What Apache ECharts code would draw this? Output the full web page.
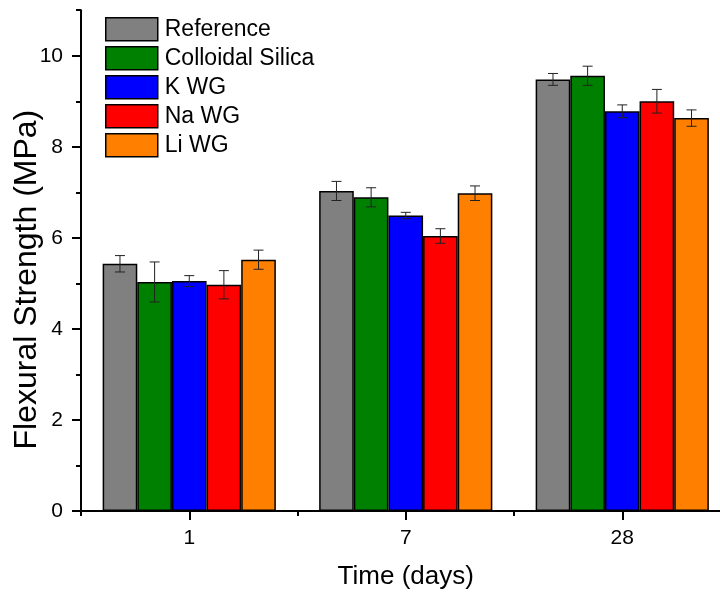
<!DOCTYPE html>
<html>
<head>
<meta charset="utf-8">
<script src="https://cdn.jsdelivr.net/npm/echarts@6/dist/echarts.min.js"></script>
<style>
html,body{margin:0;padding:0;background:#fff;}
#chart{width:720px;height:593px;}
</style>
</head>
<body>
<div id="chart"></div>
<script>
const categories = ['1', '7', '28'];
const seriesNames = ['Reference', 'Colloidal Silica', 'K WG', 'Na WG', 'Li WG'];
const referenceValues = [5.43, 7.03, 9.48];
const referenceErrors = [0.18, 0.21, 0.13];
const colloidalValues = [5.03, 6.89, 9.56];
const colloidalErrors = [0.44, 0.21, 0.21];
const kwgValues = [5.05, 6.49, 8.78];
const kwgErrors = [0.12, 0.07, 0.14];
const nawgValues = [4.97, 6.04, 9.00];
const nawgErrors = [0.31, 0.16, 0.26];
const liwgValues = [5.52, 6.98, 8.63];
const liwgErrors = [0.21, 0.16, 0.18];
const yMajorTicks = [0, 2, 4, 6, 8, 10];
const yMinorTicks = [1, 3, 5, 7, 9, 11];

const colors = ['#808080', '#008000', '#0000ff', '#ff0000', '#ff8000'];
const allValues = [referenceValues, colloidalValues, kwgValues, nawgValues, liwgValues];
const allErrors = [referenceErrors, colloidalErrors, kwgErrors, nawgErrors, liwgErrors];
const FONT = '"Liberation Sans", Arial, Helvetica, sans-serif';
const nSeries = seriesNames.length;

const series = [];
seriesNames.forEach((name, i) => {
  series.push({
    name: name,
    type: 'bar',
    xAxisIndex: 0,
    yAxisIndex: 0,
    data: allValues[i],
    barGap: '0%',
    barCategoryGap: '20%',
    itemStyle: { color: colors[i], borderColor: '#000', borderWidth: 1.5 },
    emphasis: { disabled: true }
  });
});
seriesNames.forEach((name, i) => {
  series.push({
    type: 'custom',
    xAxisIndex: 0,
    yAxisIndex: 0,
    z: 5,
    silent: true,
    data: allValues[i].map((v, k) => [k, v, allErrors[i][k]]),
    encode: { x: 0, y: 1 },
    renderItem: function (params, api) {
      const x = api.value(0), y = api.value(1), e = api.value(2);
      const c = api.coord([x, y]);
      const catW = api.size([1, 0])[0];
      const bw = catW * 0.8 / nSeries;
      const cx = c[0] + (i - (nSeries - 1) / 2) * bw;
      const top = api.coord([x, y + e])[1];
      const bot = api.coord([x, y - e])[1];
      const cap = 5;
      const st = { stroke: '#222', lineWidth: 1 };
      return {
        type: 'group',
        children: [
          { type: 'line', shape: { x1: cx, y1: top, x2: cx, y2: bot }, style: st },
          { type: 'line', shape: { x1: cx - cap, y1: top, x2: cx + cap, y2: top }, style: st },
          { type: 'line', shape: { x1: cx - cap, y1: bot, x2: cx + cap, y2: bot }, style: st }
        ]
      };
    }
  });
});

const chart = echarts.init(document.getElementById('chart'), null, { renderer: 'canvas' });
chart.setOption({
  animation: false,
  backgroundColor: '#fff',
  grid: { left: 81, right: -10.5, top: 10.2, bottom: 82, containLabel: false, outerBoundsMode: 'none' },
  legend: {
    orient: 'vertical',
    left: 105,
    top: 17,
    padding: 0,
    itemWidth: 52,
    itemHeight: 23,
    itemGap: 4.5,
    icon: 'rect',
    data: seriesNames,
    itemStyle: { borderColor: '#000', borderWidth: 1.5 },
    textStyle: { fontFamily: FONT, fontSize: 23, color: '#000', padding: [0, 0, 0, 2] },
    selectedMode: false
  },
  xAxis: [
    {
      type: 'category',
      data: categories,
      position: 'bottom',
      name: 'Time (days)',
      nameLocation: 'middle',
      nameGap: 53,
      nameMoveOverlap: false,
      nameTextStyle: { fontFamily: FONT, fontSize: 26, color: '#000' },
      axisLine: { show: true, lineStyle: { color: '#000', width: 2 } },
      axisTick: { show: true, alignWithLabel: true, length: 9, lineStyle: { color: '#000', width: 2 } },
      axisLabel: { fontFamily: FONT, fontSize: 21, color: '#000', margin: 17 },
      splitLine: { show: false }
    },
    {
      type: 'category',
      data: categories,
      position: 'bottom',
      axisLine: { show: false },
      axisTick: { show: true, alignWithLabel: false, interval: 0, length: 5, lineStyle: { color: '#000', width: 2 } },
      axisLabel: { show: false },
      splitLine: { show: false }
    }
  ],
  yAxis: [
    {
      type: 'value',
      min: 0,
      max: 11,
      position: 'left',
      name: 'Flexural Strength (MPa)',
      nameLocation: 'middle',
      nameRotate: 90,
      nameGap: 38,
      nameMoveOverlap: false,
      nameTextStyle: { fontFamily: FONT, fontSize: 32, color: '#000', padding: [0, 38, 0, 0] },
      axisLine: { show: true, lineStyle: { color: '#000', width: 2 } },
      axisTick: { show: true, length: 9, customValues: yMajorTicks, lineStyle: { color: '#000', width: 2 } },
      axisLabel: { fontFamily: FONT, fontSize: 21, color: '#000', margin: 18, customValues: yMajorTicks },
      splitLine: { show: false }
    },
    {
      type: 'value',
      min: 0,
      max: 11,
      position: 'left',
      axisLine: { show: false },
      axisTick: { show: true, length: 5, customValues: yMinorTicks, lineStyle: { color: '#000', width: 2 } },
      axisLabel: { show: false, customValues: yMinorTicks },
      splitLine: { show: false }
    }
  ],
  series: series
});
</script>
</body>
</html>
